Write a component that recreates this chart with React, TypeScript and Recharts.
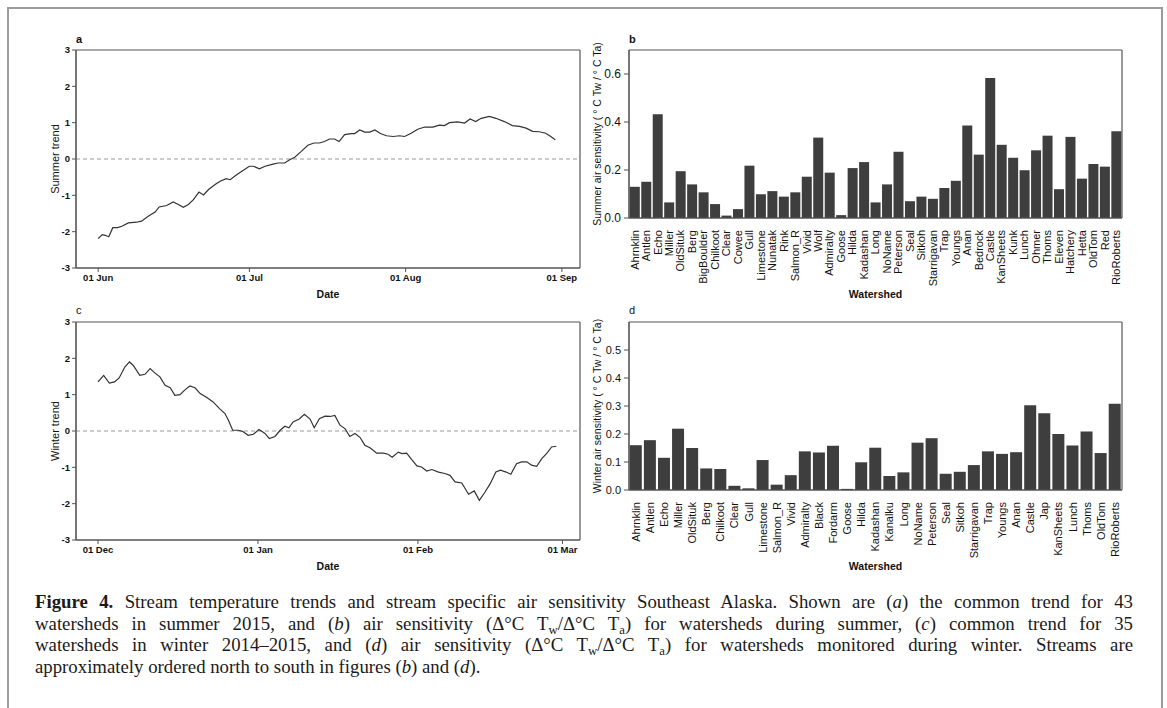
import { LineChart, Line, BarChart, Bar, XAxis, YAxis, ReferenceLine, CartesianGrid } from 'recharts';

// panel a: common summer trend (days since 01 Jun)
const summerDays = [0, 0.8, 1.4, 2.1, 2.9, 3.8, 4.7, 6.0, 7.6, 8.6, 10.0, 11.3, 12.1, 13.6, 14.9, 15.9, 16.9, 17.9, 18.9, 20.0, 20.9, 21.9, 23.2, 24.2, 25.4, 26.2, 27.2, 28.5, 30.0, 30.8, 32.0, 33.1, 34.7, 35.7, 37.0, 38.0, 39.0, 40.3, 41.6, 42.8, 43.9, 44.9, 45.9, 46.9, 47.8, 48.9, 50.2, 50.9, 51.9, 52.9, 53.9, 54.9, 56.0, 57.2, 58.5, 59.8, 60.8, 62.1, 63.4, 64.8, 66.4, 67.7, 68.7, 69.7, 71.3, 72.7, 73.8, 74.9, 76.0, 77.6, 78.9, 80.6, 82.2, 83.6, 84.9, 86.2, 87.5, 88.8, 89.8, 90.7];
const summerTrend = [-2.19, -2.08, -2.1, -2.14, -1.89, -1.89, -1.85, -1.76, -1.74, -1.71, -1.57, -1.46, -1.32, -1.28, -1.18, -1.25, -1.33, -1.25, -1.12, -0.91, -0.99, -0.84, -0.7, -0.61, -0.54, -0.57, -0.46, -0.34, -0.2, -0.2, -0.27, -0.2, -0.14, -0.11, -0.11, -0.02, 0.05, 0.21, 0.38, 0.44, 0.44, 0.48, 0.55, 0.55, 0.48, 0.67, 0.7, 0.7, 0.8, 0.74, 0.74, 0.8, 0.7, 0.64, 0.62, 0.64, 0.62, 0.71, 0.82, 0.88, 0.88, 0.93, 0.92, 1.0, 1.02, 0.99, 1.1, 1.03, 1.12, 1.17, 1.12, 1.03, 0.92, 0.9, 0.85, 0.76, 0.75, 0.71, 0.62, 0.53];
const summerTicks = [0, 30, 61, 92];
const summerTickLabels = ['01 Jun', '01 Jul', '01 Aug', '01 Sep'];

// panel c: common winter trend (days since 01 Dec)
const winterDays = [0, 1.1, 2.2, 3.2, 4.1, 5.2, 6.1, 6.8, 8.1, 9.1, 10.1, 11.0, 12.0, 13.0, 14.0, 14.9, 15.9, 16.9, 17.8, 18.8, 19.8, 21.1, 22.3, 23.6, 24.6, 25.3, 26.1, 27.2, 28.0, 29.1, 30.1, 31.2, 32.3, 33.2, 34.3, 35.3, 36.2, 37.0, 37.8, 39.0, 40.0, 41.1, 41.9, 42.9, 44.0, 45.0, 45.9, 46.9, 47.9, 48.8, 49.8, 50.8, 51.7, 52.7, 54.0, 55.3, 56.2, 57.0, 58.2, 58.9, 59.8, 60.8, 61.8, 62.7, 63.7, 64.7, 66.0, 67.2, 68.2, 69.2, 70.5, 71.8, 72.9, 73.9, 75.0, 76.0, 77.1, 78.0, 79.1, 80.0, 81.1, 82.1, 83.1, 84.0, 85.0, 86.0, 87.0, 87.9, 88.8];
const winterTrend = [1.35, 1.53, 1.32, 1.35, 1.46, 1.76, 1.9, 1.81, 1.53, 1.56, 1.72, 1.6, 1.49, 1.26, 1.19, 0.98, 1.0, 1.14, 1.24, 1.19, 1.03, 0.92, 0.8, 0.61, 0.48, 0.29, 0.02, 0.02, -0.01, -0.12, -0.09, 0.04, -0.06, -0.21, -0.15, 0.02, 0.13, 0.09, 0.25, 0.33, 0.46, 0.33, 0.09, 0.34, 0.41, 0.4, 0.43, 0.16, 0.06, -0.15, -0.07, -0.18, -0.39, -0.46, -0.61, -0.61, -0.64, -0.72, -0.58, -0.62, -0.61, -0.79, -0.96, -0.99, -1.1, -1.06, -1.13, -1.17, -1.22, -1.4, -1.43, -1.74, -1.65, -1.91, -1.68, -1.45, -1.13, -1.08, -1.13, -1.19, -0.9, -0.85, -0.85, -0.94, -0.97, -0.76, -0.61, -0.44, -0.42];
const winterTicks = [0, 31, 62, 90];
const winterTickLabels = ['01 Dec', '01 Jan', '01 Feb', '01 Mar'];

const trendTicks = [-3, -2, -1, 0, 1, 2, 3];

// panel b: summer air sensitivity
const summerSheds = ['Ahrnklin', 'Antlen', 'Echo', 'Miller', 'OldSituk', 'Berg', 'BigBoulder', 'Chilkoot', 'Clear', 'Cowee', 'Gull', 'Limestone', 'Nunatak', 'Rink', 'Salmon_R', 'Vivid', 'Wolf', 'Admiralty', 'Goose', 'Hilda', 'Kadashan', 'Long', 'NoName', 'Peterson', 'Seal', 'Sitkoh', 'Starrigavan', 'Trap', 'Youngs', 'Anan', 'Bedrock', 'Castle', 'KanSheets', 'Kunk', 'Lunch', 'Ohmer', 'Thoms', 'Eleven', 'Hatchery', 'Hetta', 'OldTom', 'Red', 'RioRoberts'];
const summerSens = [0.13, 0.151, 0.432, 0.065, 0.195, 0.14, 0.107, 0.058, 0.01, 0.037, 0.218, 0.099, 0.112, 0.089, 0.107, 0.172, 0.335, 0.189, 0.012, 0.208, 0.233, 0.065, 0.14, 0.276, 0.07, 0.089, 0.08, 0.125, 0.155, 0.385, 0.264, 0.583, 0.305, 0.251, 0.199, 0.282, 0.343, 0.12, 0.338, 0.164, 0.225, 0.214, 0.361];
const summerSensTicks = [0, 0.2, 0.4, 0.6];

// panel d: winter air sensitivity
const winterSheds = ['Ahrnklin', 'Antlen', 'Echo', 'Miller', 'OldSituk', 'Berg', 'Chilkoot', 'Clear', 'Gull', 'Limestone', 'Salmon_R', 'Vivid', 'Admiralty', 'Black', 'Fordarm', 'Goose', 'Hilda', 'Kadashan', 'Kanalku', 'Long', 'NoName', 'Peterson', 'Seal', 'Sitkoh', 'Starrigavan', 'Trap', 'Youngs', 'Anan', 'Castle', 'Jap', 'KanSheets', 'Lunch', 'Thoms', 'OldTom', 'RioRoberts'];
const winterSens = [0.16, 0.178, 0.115, 0.219, 0.15, 0.077, 0.075, 0.015, 0.006, 0.107, 0.019, 0.053, 0.138, 0.134, 0.158, 0.004, 0.099, 0.151, 0.05, 0.063, 0.169, 0.185, 0.058, 0.065, 0.089, 0.138, 0.129, 0.135, 0.303, 0.274, 0.2, 0.159, 0.209, 0.132, 0.308];
const winterSensTicks = [0, 0.1, 0.2, 0.3, 0.4, 0.5];

const summerData = summerDays.map((d, i) => ({ day: d, trend: summerTrend[i] }));
const winterData = winterDays.map((d, i) => ({ day: d, trend: winterTrend[i] }));
const summerBars = summerSheds.map((n, i) => ({ name: n, value: summerSens[i] }));
const winterBars = winterSheds.map((n, i) => ({ name: n, value: winterSens[i] }));

const SANS = '"Liberation Sans", Arial, sans-serif';
const FRAME = '#555';
const BAR = '#3e3e3e';

// box around the plot area, taken from the chart's own offset
const boxRows = (p: any) => (p && p.offset ? [p.offset.top, p.offset.top + p.offset.height] : []);
const boxCols = (p: any) => (p && p.offset ? [p.offset.left, p.offset.left + p.offset.width] : []);

function WatershedTick(props: any) {
  const { x, y, payload } = props;
  const ty = y + 4;
  return (
    <text x={x} y={ty} dy="0.35em" textAnchor="end" transform={`rotate(-90, ${x}, ${ty})`}
      fontSize={11} fontFamily={SANS} fill="#111">
      {payload.value}
    </text>
  );
}

function TrendPanel({ data, ticks, labels, domain, yLabel }: any) {
  return (
    <LineChart width={600} height={310} data={data} margin={{ top: 50, right: 20, bottom: 12, left: 36 }}>
      <CartesianGrid stroke={FRAME} strokeWidth={1.2} horizontalCoordinatesGenerator={boxRows} verticalCoordinatesGenerator={boxCols} />
      <XAxis dataKey="day" type="number" domain={domain} ticks={ticks} allowDataOverflow
        tickFormatter={(v: number) => labels[ticks.indexOf(v)]}
        height={30} tickSize={4} tickMargin={2} stroke={FRAME}
        tick={{ fontSize: 9.5, fontWeight: 700, fill: '#111', fontFamily: SANS }}
        label={{ value: 'Date', position: 'insideBottom', offset: 0, style: { fontSize: 10.5, fontWeight: 700, fill: '#111', fontFamily: SANS } }} />
      <YAxis type="number" domain={[-3, 3]} ticks={trendTicks} width={40} tickSize={4} tickMargin={2} stroke={FRAME}
        tick={{ fontSize: 9.5, fontWeight: 700, fill: '#111', fontFamily: SANS }}
        label={{ value: yLabel, angle: -90, position: 'insideLeft', offset: 19, style: { textAnchor: 'middle', fontSize: 11, fill: '#111', fontFamily: SANS } }} />
      <ReferenceLine y={0} stroke="#999" strokeDasharray="4 3" strokeWidth={1} />
      <Line type="linear" dataKey="trend" stroke="#333" strokeWidth={1.2} dot={false} isAnimationActive={false} />
    </LineChart>
  );
}

function SensPanel({ data, ticks, domain, yLabel, tickFont }: any) {
  return (
    <BarChart width={560} height={310} data={data} margin={{ top: 50, right: 18, bottom: 12, left: 9 }}
      barCategoryGap={0.8}>
      <CartesianGrid stroke={FRAME} strokeWidth={1.2} horizontalCoordinatesGenerator={boxRows} verticalCoordinatesGenerator={boxCols} />
      <XAxis dataKey="name" interval={0} height={80} tickLine={false} tick={<WatershedTick />} stroke={FRAME}
        label={{ value: 'Watershed', position: 'insideBottom', offset: 0, style: { fontSize: 10.5, fontWeight: 700, fill: '#111', fontFamily: SANS } }} />
      <YAxis type="number" domain={domain} ticks={ticks} width={40} tickSize={5} tickMargin={3} stroke={FRAME}
        tickFormatter={(v: number) => v.toFixed(1)}
        tick={{ fontSize: tickFont, fill: '#111', fontFamily: SANS }}
        label={{ value: yLabel, angle: -90, position: 'insideLeft', offset: 8, style: { textAnchor: 'middle', fontSize: 10.5, fill: '#111', fontFamily: SANS } }} />
      <Bar dataKey="value" fill={BAR} isAnimationActive={false} />
    </BarChart>
  );
}

const letter = (left: number, top: number, bold: boolean): React.CSSProperties => ({
  position: 'absolute', left, top, fontFamily: SANS, fontSize: 11, fontWeight: bold ? 700 : 400, color: '#111',
});

const sub = { fontSize: '0.68em', lineHeight: 0, verticalAlign: '-0.3em' } as React.CSSProperties;

export default function App() {
  const line = { textAlign: 'justify', textAlignLast: 'justify', whiteSpace: 'nowrap' } as React.CSSProperties;
  return (
    <div style={{ position: 'absolute', left: 0, top: 0, width: 1167, height: 708, overflow: 'hidden', background: '#fff' }}>
      <div style={{ position: 'absolute', left: 7, top: 7, width: 1152, height: 760, border: '2px solid #9c9c9c' }} />

      <div style={{ position: 'absolute', left: 0, top: 0 }}>
        <TrendPanel data={summerData} ticks={summerTicks} labels={summerTickLabels} domain={[-4.4, 95.6]} yLabel="Summer trend" />
      </div>
      <div style={{ position: 'absolute', left: 0, top: 272 }}>
        <TrendPanel data={winterData} ticks={winterTicks} labels={winterTickLabels} domain={[-4.26, 93.4]} yLabel="Winter trend" />
      </div>
      <div style={{ position: 'absolute', left: 580, top: 0 }}>
        <SensPanel data={summerBars} ticks={summerSensTicks} domain={[0, 0.7]} tickFont={12}
          yLabel="Summer air sensitivity ( ° C Tw / ° C Ta)" />
      </div>
      <div style={{ position: 'absolute', left: 580, top: 272 }}>
        <SensPanel data={winterBars} ticks={winterSensTicks} domain={[0, 0.6]} tickFont={11}
          yLabel="Winter air sensitivity ( ° C Tw / ° C Ta)" />
      </div>

      <div style={letter(76, 33, true)}>a</div>
      <div style={letter(629, 33, true)}>b</div>
      <div style={letter(76, 304, false)}>c</div>
      <div style={letter(629, 304, false)}>d</div>

      <div style={{ position: 'absolute', left: 35, top: 591, width: 1098, fontFamily: '"Liberation Serif", "Times New Roman", serif', fontSize: 18.8, lineHeight: '21.5px', color: '#1a1a1a' }}>
        <div style={line}><b>Figure 4.</b> Stream temperature trends and stream specific air sensitivity Southeast Alaska. Shown are (<i>a</i>) the common trend for 43</div>
        <div style={line}>watersheds in summer 2015, and (<i>b</i>) air sensitivity (Δ°C T<sub style={sub}>w</sub>/Δ°C T<sub style={sub}>a</sub>) for watersheds during summer, (<i>c</i>) common trend for 35</div>
        <div style={line}>watersheds in winter 2014–2015, and (<i>d</i>) air sensitivity (Δ°C T<sub style={sub}>w</sub>/Δ°C T<sub style={sub}>a</sub>) for watersheds monitored during winter. Streams are</div>
        <div style={{ whiteSpace: 'nowrap' }}>approximately ordered north to south in figures (<i>b</i>) and (<i>d</i>).</div>
      </div>
    </div>
  );
}
